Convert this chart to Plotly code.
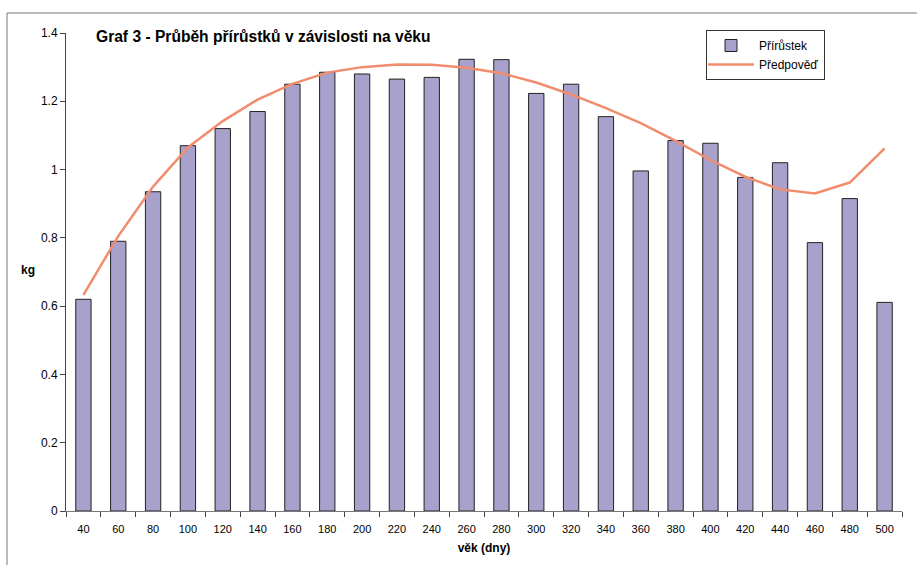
import plotly.graph_objects as go

ages = ["40", "60", "80", "100", "120", "140", "160", "180", "200", "220", "240", "260",
        "280", "300", "320", "340", "360", "380", "400", "420", "440", "460", "480", "500"]
prirustek = [0.62, 0.79, 0.935, 1.07, 1.12, 1.17, 1.25, 1.285, 1.28, 1.265, 1.27, 1.323,
             1.322, 1.223, 1.25, 1.155, 0.996, 1.085, 1.077, 0.977, 1.02, 0.786, 0.915, 0.611]
predpoved = [0.633, 0.805, 0.95, 1.065, 1.142, 1.205, 1.251, 1.284, 1.30, 1.308, 1.307, 1.298,
             1.282, 1.255, 1.22, 1.18, 1.136, 1.084, 1.028, 0.979, 0.942, 0.93, 0.962, 1.062]
y_ticks = [0, 0.2, 0.4, 0.6, 0.8, 1, 1.2, 1.4]

FONT = "Liberation Sans, Arial, sans-serif"

fig = go.Figure()
fig.add_trace(go.Bar(
    x=ages, y=prirustek, name="Přírůstek", width=0.44,
    marker=dict(color="#A7A1CB", line=dict(color="#222222", width=1)),
))
fig.add_trace(go.Scatter(
    x=ages, y=predpoved, name="Předpověď", mode="lines",
    line=dict(color="#F28C6E", width=2.5),
))

fig.update_layout(
    width=917, height=565,
    margin=dict(l=66, r=15, t=33, b=54),
    paper_bgcolor="white", plot_bgcolor="white",
    font=dict(family=FONT, size=12, color="black"),
    showlegend=True,
    title=dict(text="<b>Graf 3 - Průběh přírůstků v závislosti na věku</b>",
               x=96/917, xanchor="left", xref="container",
               y=1-37/565, yanchor="middle", yref="container",
               font=dict(family=FONT, size=15.6, color="black")),
    legend=dict(x=(706-66)/836, y=(511-30)/478, xanchor="left", yanchor="top",
                bgcolor="white", bordercolor="#333333", borderwidth=1,
                font=dict(family=FONT, size=12, color="black"),
                tracegroupgap=0, itemwidth=46, entrywidth=88,
                indentation=-4),
    xaxis=dict(type="category", showline=True, linecolor="#777777", linewidth=1,
               ticks="outside", tickson="boundaries", ticklen=5, tickcolor="#444444",
               showgrid=False, ticklabelstandoff=8,
               tickfont=dict(family="Liberation Sans Narrow, " + FONT, size=11),
               title=dict(text="<b>věk (dny)</b>", font=dict(size=12), standoff=9)),
    yaxis=dict(range=[0, 1.4], tickvals=y_ticks, ticktext=[f"{v:g}" for v in y_ticks],
               showline=True, linecolor="#444444", linewidth=1, ticks="outside", ticklen=5,
               tickcolor="#444444", showgrid=False, zeroline=False,
               tickfont=dict(size=12)),
    shapes=[dict(type="rect", xref="paper", yref="paper",
                 x0=(7-66)/836, x1=(925-66)/836, y0=(511-575)/478, y1=(511-13)/478,
                 line=dict(color="#777777", width=1), fillcolor="rgba(0,0,0,0)", layer="below")],
    annotations=[dict(text="<b>kg</b>", x=(28-66)/836, y=(511-270)/478,
                      xref="paper", yref="paper", xanchor="center", yanchor="middle",
                      showarrow=False, font=dict(size=12))],
)

fig.write_html("out.html")
